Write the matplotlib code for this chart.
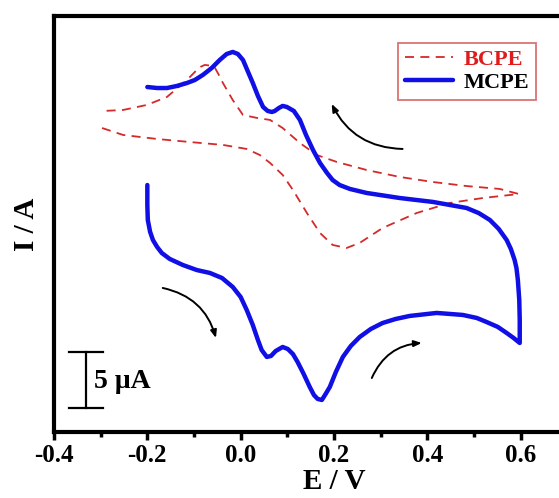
import numpy as np
import matplotlib
matplotlib.use("Agg")
import matplotlib.pyplot as plt

plt.rcParams['font.family'] = ['Liberation Serif', 'DejaVu Serif']
plt.rcParams['font.weight'] = 'bold'
plt.rcParams['axes.unicode_minus'] = False

# MCPE (blue) : E / V, I / uA (offset, no y scale shown)
mcpe_E = [-0.200, -0.200, -0.199, -0.194, -0.188, -0.179, -0.169, -0.152, -0.124, -0.094,
          -0.066, -0.040, -0.017, 0.000, 0.013, 0.026, 0.037, 0.045, 0.056, 0.065,
          0.075, 0.090, 0.101, 0.112, 0.122, 0.135, 0.148, 0.157, 0.165, 0.174,
          0.182, 0.191, 0.204, 0.219, 0.236, 0.255, 0.279, 0.304, 0.332, 0.362,
          0.420, 0.476, 0.506, 0.527, 0.551, 0.570, 0.585, 0.598, 0.598, 0.597,
          0.594, 0.591, 0.587, 0.579, 0.570, 0.553, 0.534, 0.510, 0.484, 0.448,
          0.412, 0.341, 0.270, 0.234, 0.212, 0.197, 0.185, 0.170, 0.155, 0.140,
          0.127, 0.114, 0.099, 0.090, 0.082, 0.073, 0.067, 0.058, 0.048, 0.037,
          0.026, 0.015, 0.005, -0.006, -0.017, -0.030, -0.045, -0.062, -0.081, -0.098,
          -0.115, -0.137, -0.158, -0.179, -0.200]
mcpe_I = [22.05, 20.27, 18.93, 17.86, 17.14, 16.52, 15.98, 15.45, 14.91, 14.46,
          14.20, 13.75, 12.95, 12.05, 10.89, 9.55, 8.21, 7.32, 6.70, 6.79,
          7.23, 7.59, 7.41, 6.96, 6.25, 5.18, 4.02, 3.30, 2.95, 2.86,
          3.39, 4.02, 5.36, 6.70, 7.68, 8.48, 9.20, 9.73, 10.09, 10.36,
          10.63, 10.45, 10.18, 9.82, 9.38, 8.84, 8.39, 7.95, 10.00, 11.79,
          13.57, 14.64, 15.36, 16.34, 17.14, 18.13, 18.93, 19.55, 20.00, 20.27,
          20.54, 20.89, 21.34, 21.70, 22.05, 22.50, 23.13, 24.02, 25.18, 26.52,
          27.86, 28.66, 29.02, 29.11, 28.93, 28.66, 28.57, 28.66, 29.02, 30.00,
          31.16, 32.23, 33.21, 33.75, 33.93, 33.75, 33.21, 32.50, 31.88, 31.43,
          31.16, 30.89, 30.71, 30.71, 30.80]

# BCPE (red dashed)
bcpe_E = [-0.297, -0.252, -0.179, -0.109, -0.038, 0.013, 0.041, 0.063, 0.090, 0.112,
          0.142, 0.170, 0.197, 0.227, 0.255, 0.304, 0.377, 0.448, 0.519, 0.596,
          0.555, 0.484, 0.412, 0.341, 0.270, 0.206, 0.163, 0.127, 0.090, 0.063,
          0.035, 0.005, -0.017, -0.038, -0.047, -0.055, -0.066, -0.077, -0.086, -0.094,
          -0.115, -0.158, -0.201, -0.252, -0.295]
bcpe_I = [27.14, 26.52, 26.16, 25.89, 25.63, 25.27, 24.73, 24.02, 22.95, 21.61,
          19.55, 17.77, 16.70, 16.43, 16.88, 18.21, 19.55, 20.45, 20.89, 21.25,
          21.70, 21.96, 22.32, 22.77, 23.39, 24.11, 24.73, 25.80, 27.14, 27.86,
          28.04, 28.30, 29.64, 31.16, 31.90, 32.50, 32.72, 32.77, 32.60, 32.32,
          31.43, 29.91, 29.20, 28.75, 28.66]

xticks = [-0.4, -0.2, 0.0, 0.2, 0.4, 0.6]
xtick_labels = ['-0.4', '-0.2', '0.0', '0.2', '0.4', '0.6']
minor_ticks = [-0.3, -0.1, 0.1, 0.3, 0.5]

# scan direction arrows: (tail E, tail I, head E, head I)
arrows = [(0.347, 25.27, 0.195, 29.29),
          (-0.167, 12.86, -0.053, 8.39),
          (0.281, 4.82, 0.388, 7.95)]

fig = plt.figure(figsize=(5.59, 4.98), dpi=100)
ax = fig.add_axes([54 / 559, 66 / 498, 560 / 559, 416 / 498])

ax.plot(bcpe_E, bcpe_I, color='#d42a2a', lw=1.3, dashes=(5, 3.5), label='BCPE')
ax.plot(mcpe_E, mcpe_I, color='#0f0fe6', lw=3.2, solid_joinstyle='round',
        solid_capstyle='round', label='MCPE')

for tx, ty, hx, hy in arrows:
    ax.annotate('', xy=(hx, hy), xytext=(tx, ty),
                arrowprops=dict(arrowstyle='-|>,head_length=0.45,head_width=0.18',
                                connectionstyle='arc3,rad=-0.3', lw=1.4,
                                color='black', shrinkA=0, shrinkB=0))

# 5 uA scale bar
ax.plot([-0.331, -0.331], [2.14, 7.14], color='black', lw=1.6)
ax.plot([-0.367, -0.294], [2.14, 2.14], color='black', lw=1.6)
ax.plot([-0.367, -0.294], [7.14, 7.14], color='black', lw=1.6)
ax.text(-0.314, 4.5, '5 μA', fontsize=20, fontweight='bold', va='center', ha='left')

ax.set_xlim(-0.4, 0.8)
ax.set_ylim(0, 37.14)
ax.set_xticks(xticks)
ax.set_xticklabels(xtick_labels)
ax.set_xticks(minor_ticks, minor=True)
ax.set_yticks([])
ax.tick_params(axis='x', which='major', direction='out', length=6, width=2.5,
               labelsize=18, pad=2.5)
ax.tick_params(axis='x', which='minor', direction='out', length=3.5, width=2.5)
for s in ax.spines.values():
    s.set_linewidth(3)

ax.set_xlabel('E / V', fontsize=21, fontweight='bold', labelpad=1)
ax.set_ylabel('I / A', fontsize=21, fontweight='bold', labelpad=10)

leg = ax.legend(loc='upper left', bbox_to_anchor=(0.614, 0.935), fontsize=16,
                frameon=True, fancybox=False, edgecolor='#d05050',
                handlelength=2.2, handletextpad=0.45, borderpad=0.3,
                labelspacing=0.1, borderaxespad=0)
leg.get_frame().set_linewidth(1.3)
leg.get_texts()[0].set_color('#e01b1b')
leg.get_texts()[1].set_color('black')

fig.savefig('out.png', dpi=100)
